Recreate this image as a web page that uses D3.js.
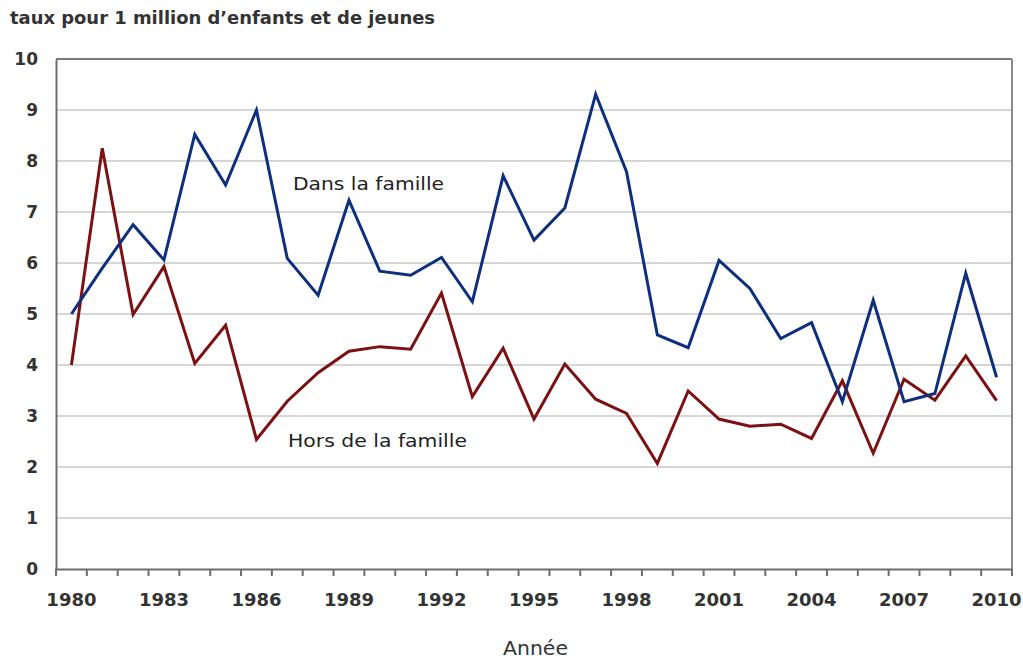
<!DOCTYPE html>
<html><head><meta charset="utf-8">
<script src="https://cdn.jsdelivr.net/npm/d3@7"></script>
<style>body{margin:0;background:#fff}svg{display:block}</style>
</head><body>
<script>
const years = d3.range(1980, 2011);
const dansFamille = [5.0,5.9,6.75,6.06,8.52,7.53,9.0,6.09,5.37,7.23,5.84,5.76,6.11,5.24,7.71,6.45,7.08,9.31,7.79,4.59,4.34,6.05,5.5,4.52,4.83,3.28,5.27,3.28,3.44,5.8,3.76];
const horsFamille = [4.0,8.25,4.99,5.93,4.03,4.78,2.54,3.29,3.85,4.27,4.36,4.31,5.41,3.38,4.33,2.94,4.02,3.33,3.05,2.07,3.49,2.94,2.8,2.84,2.56,3.69,2.27,3.72,3.31,4.18,3.3];
const yTicks = [0,1,2,3,4,5,6,7,8,9,10];
const xLabelYears = [1980,1983,1986,1989,1992,1995,1998,2001,2004,2007,2010];

const W=1023,H=658;
const m={l:56,r:11,t:59,b:89};
const svg=d3.select("body").append("svg").attr("width",W).attr("height",H);
const x=d3.scaleBand().domain(years).range([m.l,W-m.r]);
const y=d3.scaleLinear().domain([0,10]).range([H-m.b,m.t]);
const font="DejaVu Sans, Verdana, sans-serif";

// gridlines
svg.append("g").selectAll("line").data(yTicks.filter(d=>d>0&&d<10)).join("line")
  .attr("x1",m.l).attr("x2",W-m.r).attr("y1",d=>y(d)).attr("y2",d=>y(d))
  .attr("stroke","#d6d6d6").attr("stroke-width",2);
// frame top/right
svg.append("line").attr("x1",m.l).attr("x2",W-m.r).attr("y1",y(10)).attr("y2",y(10)).attr("stroke","#7a7a7a").attr("stroke-width",2);
svg.append("line").attr("x1",W-m.r).attr("x2",W-m.r).attr("y1",y(10)).attr("y2",y(0)).attr("stroke","#8a8a8a").attr("stroke-width",2);

// y axis
const ya=svg.append("g").attr("transform",`translate(${m.l},0)`)
  .call(d3.axisLeft(y).tickValues(yTicks).tickSize(0).tickPadding(18).tickFormat(d3.format("d")));
ya.select(".domain").attr("stroke","#6e6e6e").attr("stroke-width",2);
ya.selectAll("text").attr("font-family",font).attr("font-size",17).attr("font-weight","bold").attr("fill","#333");

// x axis
const xa=svg.append("g").attr("transform",`translate(0,${y(0)})`)
  .call(d3.axisBottom(x).tickValues(xLabelYears).tickSize(0).tickPadding(24));
xa.select(".domain").attr("stroke","#6e6e6e").attr("stroke-width",2);
xa.selectAll("text").attr("font-family",font).attr("font-size",18).attr("font-weight","bold").attr("fill","#333");
// tick marks at band boundaries
const bounds=years.map(d=>x(d)).concat([W-m.r]);
svg.append("g").selectAll("line").data(bounds).join("line")
  .attr("x1",d=>d).attr("x2",d=>d).attr("y1",y(0)).attr("y2",y(0)+7)
  .attr("stroke","#6e6e6e").attr("stroke-width",2);

const cx=d=>x(d)+x.bandwidth()/2;
const line=d3.line().x((d,i)=>cx(years[i])).y(d=>y(d));
svg.append("path").datum(horsFamille).attr("d",line).attr("fill","none").attr("stroke","#7b1113").attr("stroke-width",3).attr("stroke-linejoin","miter");
svg.append("path").datum(dansFamille).attr("d",line).attr("fill","none").attr("stroke","#0e2f7e").attr("stroke-width",3).attr("stroke-linejoin","miter");

// labels
svg.append("text").attr("x",293).attr("y",190).text("Dans la famille").attr("font-family",font).attr("font-size",18).attr("fill","#222")
  .attr("textLength",151).attr("lengthAdjust","spacingAndGlyphs");
svg.append("text").attr("x",288).attr("y",447).text("Hors de la famille").attr("font-family",font).attr("font-size",18).attr("fill","#222")
  .attr("textLength",179).attr("lengthAdjust","spacingAndGlyphs");
svg.append("text").attr("x",10).attr("y",24).text("taux pour 1 million d\u2019enfants et de jeunes").attr("font-family",font).attr("font-size",17).attr("font-weight","bold").attr("fill","#333")
  .attr("textLength",425).attr("lengthAdjust","spacingAndGlyphs");
svg.append("text").attr("x",503).attr("y",655).text("Année").attr("font-family",font).attr("font-size",19).attr("fill","#333")
  .attr("textLength",65).attr("lengthAdjust","spacingAndGlyphs");
</script>
</body></html>
